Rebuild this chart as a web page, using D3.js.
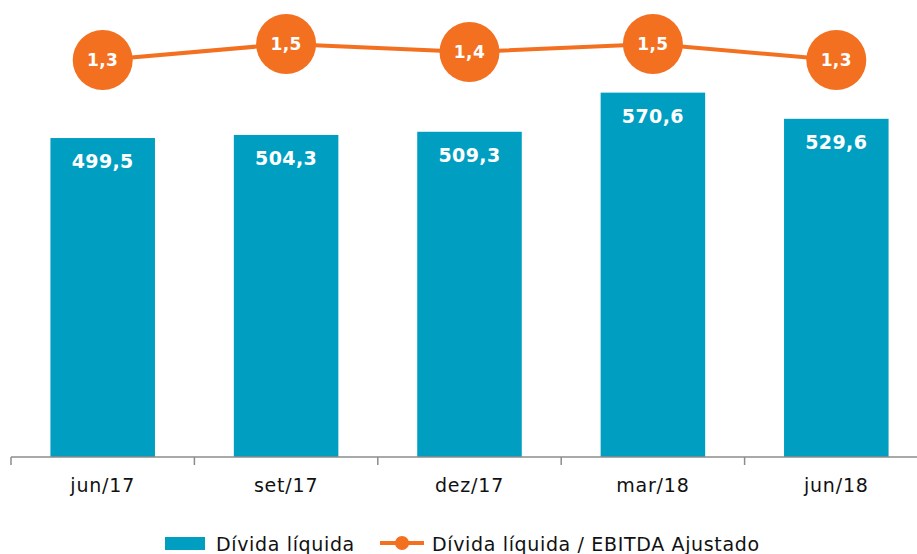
<!DOCTYPE html>
<html>
<head>
<meta charset="utf-8">
<script src="https://cdn.jsdelivr.net/npm/d3@7"></script>
<style>
  body { margin: 0; background: #fff; }
  svg text { font-family: "DejaVu Sans", Verdana, sans-serif; }
  .axis path, .axis line { stroke: #8c8c8c; stroke-width: 1.5; }
  .axis text { font-size: 19px; fill: #111; letter-spacing: 0.8px; }
  .legend text { letter-spacing: 0.65px; }
</style>
</head>
<body>
<svg width="917" height="554"></svg>
<script>
var periods = ['jun/17', 'set/17', 'dez/17', 'mar/18', 'jun/18'];
var netDebt = [499.5, 504.3, 509.3, 570.6, 529.6];
var leverage = [1.3, 1.5, 1.4, 1.5, 1.3];
var seriesNames = ['Dívida líquida', 'Dívida líquida / EBITDA Ajustado'];

var barColor = '#009fc2';
var lineColor = '#f37021';
var fmt = function(v, d) { return v.toFixed(d).replace('.', ','); };

var svg = d3.select('svg');

var xScale = d3.scaleBand()
    .domain(periods)
    .range([11, 928])
    .paddingInner(0.43)
    .paddingOuter(0.215);

var band = d3.scaleBand().domain(periods).range([11, 928]);

var yScale = d3.scaleLinear()
    .domain([0, 700])
    .range([457, 10]);

var rScale = d3.scaleLinear()
    .domain([0, 2])
    .range([164, 4]);

// bars
svg.selectAll('rect.bar')
    .data(netDebt)
    .enter()
    .append('rect')
    .attr('class', 'bar')
    .attr('x', function(d, i) { return xScale(periods[i]); })
    .attr('y', function(d) { return yScale(d); })
    .attr('width', xScale.bandwidth())
    .attr('height', function(d) { return yScale(0) - yScale(d); })
    .style('fill', barColor);

svg.selectAll('text.barlabel')
    .data(netDebt)
    .enter()
    .append('text')
    .attr('class', 'barlabel')
    .attr('x', function(d, i) { return xScale(periods[i]) + xScale.bandwidth() / 2; })
    .attr('y', function(d) { return yScale(d) + 30; })
    .attr('text-anchor', 'middle')
    .style('font-size', '19px')
    .style('font-weight', 'bold')
    .style('letter-spacing', '0.4px')
    .style('fill', '#fff')
    .text(function(d) { return fmt(d, 1); });

// axis
var xAxis = d3.axisBottom(band).tickSize(0).tickPadding(20);
var gx = svg.append('g')
    .attr('class', 'x axis')
    .attr('transform', 'translate(0,457)')
    .call(xAxis);
gx.select('.domain').remove();
gx.append('line')
    .attr('x1', 11).attr('x2', 928)
    .attr('y1', 0).attr('y2', 0);
gx.selectAll('line.sep')
    .data(periods.concat(['end']))
    .enter()
    .append('line')
    .attr('class', 'sep')
    .attr('x1', function(d, i) { return 11 + i * band.bandwidth(); })
    .attr('x2', function(d, i) { return 11 + i * band.bandwidth(); })
    .attr('y1', 0).attr('y2', 8);
gx.selectAll('.tick text').attr('dy', '0.35em').attr('y', 28);

// line series
var cx = function(i) { return band(periods[i]) + band.bandwidth() / 2; };
var line = d3.line()
    .x(function(d, i) { return cx(i); })
    .y(function(d) { return rScale(d); });

svg.append('path')
    .datum(leverage)
    .attr('d', line)
    .style('fill', 'none')
    .style('stroke', lineColor)
    .style('stroke-width', 4);

svg.selectAll('circle.pt')
    .data(leverage)
    .enter()
    .append('circle')
    .attr('class', 'pt')
    .attr('cx', function(d, i) { return cx(i); })
    .attr('cy', function(d) { return rScale(d); })
    .attr('r', 30)
    .style('fill', lineColor);

svg.selectAll('text.ptlabel')
    .data(leverage)
    .enter()
    .append('text')
    .attr('class', 'ptlabel')
    .attr('x', function(d, i) { return cx(i); })
    .attr('y', function(d) { return rScale(d); })
    .attr('dy', '0.36em')
    .attr('text-anchor', 'middle')
    .style('font-size', '17px')
    .style('font-weight', 'bold')
    .style('letter-spacing', '0.4px')
    .style('fill', '#fff')
    .text(function(d) { return fmt(d, 1); });

// legend
var legend = svg.append('g').attr('class', 'legend');
legend.append('rect')
    .attr('x', 165).attr('y', 537)
    .attr('width', 40).attr('height', 13)
    .style('fill', barColor);
legend.append('text')
    .attr('x', 216).attr('y', 551)
    .style('font-size', '19px').style('fill', '#111')
    .text(seriesNames[0]);
legend.append('line')
    .attr('x1', 380).attr('x2', 424)
    .attr('y1', 543).attr('y2', 543)
    .style('stroke', lineColor).style('stroke-width', 4);
legend.append('circle')
    .attr('cx', 402).attr('cy', 543).attr('r', 7)
    .style('fill', lineColor);
legend.append('text')
    .attr('x', 432).attr('y', 551)
    .style('font-size', '19px').style('fill', '#111')
    .text(seriesNames[1]);
</script>
</body>
</html>
